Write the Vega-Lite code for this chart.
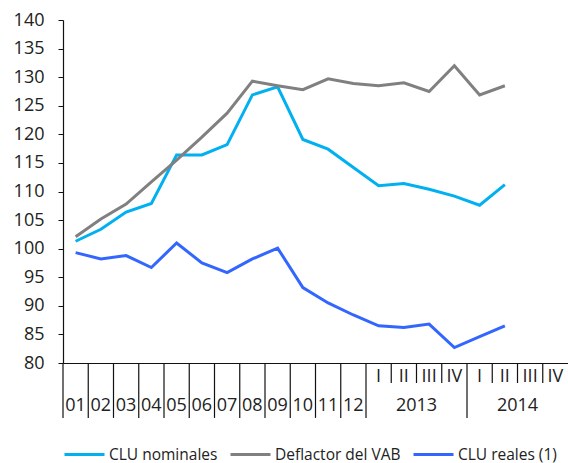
{
  "$schema": "https://vega.github.io/schema/vega-lite/v6.json",
  "autosize": "none",
  "width": 505,
  "height": 343,
  "padding": {"left": 63, "top": 20, "right": 0, "bottom": 100},
  "background": "white",
  "config": {
    "font": "Open Sans",
    "view": {"stroke": null}
  },
  "resolve": {"axis": {"x": "independent", "y": "independent"}},
  "datasets": {
    "series": [
      {"pos": 0.5, "serie": "CLU nominales", "v": 101.3},
      {"pos": 1.5, "serie": "CLU nominales", "v": 103.4},
      {"pos": 2.5, "serie": "CLU nominales", "v": 106.4},
      {"pos": 3.5, "serie": "CLU nominales", "v": 107.9},
      {"pos": 4.5, "serie": "CLU nominales", "v": 116.4},
      {"pos": 5.5, "serie": "CLU nominales", "v": 116.4},
      {"pos": 6.5, "serie": "CLU nominales", "v": 118.2},
      {"pos": 7.5, "serie": "CLU nominales", "v": 126.9},
      {"pos": 8.5, "serie": "CLU nominales", "v": 128.3},
      {"pos": 9.5, "serie": "CLU nominales", "v": 119.1},
      {"pos": 10.5, "serie": "CLU nominales", "v": 117.4},
      {"pos": 11.5, "serie": "CLU nominales", "v": 114.2},
      {"pos": 12.5, "serie": "CLU nominales", "v": 111.0},
      {"pos": 13.5, "serie": "CLU nominales", "v": 111.4},
      {"pos": 14.5, "serie": "CLU nominales", "v": 110.4},
      {"pos": 15.5, "serie": "CLU nominales", "v": 109.2},
      {"pos": 16.5, "serie": "CLU nominales", "v": 107.6},
      {"pos": 17.5, "serie": "CLU nominales", "v": 111.2},
      {"pos": 0.5, "serie": "Deflactor del VAB", "v": 102.1},
      {"pos": 1.5, "serie": "Deflactor del VAB", "v": 105.2},
      {"pos": 2.5, "serie": "Deflactor del VAB", "v": 107.8},
      {"pos": 3.5, "serie": "Deflactor del VAB", "v": 111.7},
      {"pos": 4.5, "serie": "Deflactor del VAB", "v": 115.5},
      {"pos": 5.5, "serie": "Deflactor del VAB", "v": 119.5},
      {"pos": 6.5, "serie": "Deflactor del VAB", "v": 123.7},
      {"pos": 7.5, "serie": "Deflactor del VAB", "v": 129.3},
      {"pos": 8.5, "serie": "Deflactor del VAB", "v": 128.5},
      {"pos": 9.5, "serie": "Deflactor del VAB", "v": 127.8},
      {"pos": 10.5, "serie": "Deflactor del VAB", "v": 129.7},
      {"pos": 11.5, "serie": "Deflactor del VAB", "v": 128.9},
      {"pos": 12.5, "serie": "Deflactor del VAB", "v": 128.5},
      {"pos": 13.5, "serie": "Deflactor del VAB", "v": 129.0},
      {"pos": 14.5, "serie": "Deflactor del VAB", "v": 127.5},
      {"pos": 15.5, "serie": "Deflactor del VAB", "v": 132.0},
      {"pos": 16.5, "serie": "Deflactor del VAB", "v": 126.9},
      {"pos": 17.5, "serie": "Deflactor del VAB", "v": 128.5},
      {"pos": 0.5, "serie": "CLU reales (1)", "v": 99.3},
      {"pos": 1.5, "serie": "CLU reales (1)", "v": 98.2},
      {"pos": 2.5, "serie": "CLU reales (1)", "v": 98.8},
      {"pos": 3.5, "serie": "CLU reales (1)", "v": 96.7},
      {"pos": 4.5, "serie": "CLU reales (1)", "v": 101.0},
      {"pos": 5.5, "serie": "CLU reales (1)", "v": 97.5},
      {"pos": 6.5, "serie": "CLU reales (1)", "v": 95.8},
      {"pos": 7.5, "serie": "CLU reales (1)", "v": 98.2},
      {"pos": 8.5, "serie": "CLU reales (1)", "v": 100.1},
      {"pos": 9.5, "serie": "CLU reales (1)", "v": 93.2},
      {"pos": 10.5, "serie": "CLU reales (1)", "v": 90.5},
      {"pos": 11.5, "serie": "CLU reales (1)", "v": 88.4},
      {"pos": 12.5, "serie": "CLU reales (1)", "v": 86.5},
      {"pos": 13.5, "serie": "CLU reales (1)", "v": 86.2},
      {"pos": 14.5, "serie": "CLU reales (1)", "v": 86.8},
      {"pos": 15.5, "serie": "CLU reales (1)", "v": 82.7},
      {"pos": 16.5, "serie": "CLU reales (1)", "v": 84.6},
      {"pos": 17.5, "serie": "CLU reales (1)", "v": 86.5}
    ],
    "seps": [
      {"b": 0, "top": 80, "bottom": 70.4},
      {"b": 1, "top": 80, "bottom": 70.4},
      {"b": 2, "top": 80, "bottom": 70.4},
      {"b": 3, "top": 80, "bottom": 70.4},
      {"b": 4, "top": 80, "bottom": 70.4},
      {"b": 5, "top": 80, "bottom": 70.4},
      {"b": 6, "top": 80, "bottom": 70.4},
      {"b": 7, "top": 80, "bottom": 70.4},
      {"b": 8, "top": 80, "bottom": 70.4},
      {"b": 9, "top": 80, "bottom": 70.4},
      {"b": 10, "top": 80, "bottom": 70.4},
      {"b": 11, "top": 80, "bottom": 70.4},
      {"b": 12, "top": 80, "bottom": 70.4},
      {"b": 13, "top": 80, "bottom": 76.5},
      {"b": 14, "top": 80, "bottom": 76.5},
      {"b": 15, "top": 80, "bottom": 76.5},
      {"b": 16, "top": 80, "bottom": 70.4},
      {"b": 17, "top": 80, "bottom": 76.5},
      {"b": 18, "top": 80, "bottom": 76.5},
      {"b": 19, "top": 80, "bottom": 76.5}
    ],
    "labels": [
      {"c": 0.5, "lv": 72.4, "t": "01"},
      {"c": 1.5, "lv": 72.4, "t": "02"},
      {"c": 2.5, "lv": 72.4, "t": "03"},
      {"c": 3.5, "lv": 72.4, "t": "04"},
      {"c": 4.5, "lv": 72.4, "t": "05"},
      {"c": 5.5, "lv": 72.4, "t": "06"},
      {"c": 6.5, "lv": 72.4, "t": "07"},
      {"c": 7.5, "lv": 72.4, "t": "08"},
      {"c": 8.5, "lv": 72.4, "t": "09"},
      {"c": 9.5, "lv": 72.4, "t": "10"},
      {"c": 10.5, "lv": 72.4, "t": "11"},
      {"c": 11.5, "lv": 72.4, "t": "12"},
      {"c": 12.5, "lv": 77.5, "t": "I"},
      {"c": 13.5, "lv": 77.5, "t": "II"},
      {"c": 14.5, "lv": 77.5, "t": "III"},
      {"c": 15.5, "lv": 77.5, "t": "IV"},
      {"c": 16.5, "lv": 77.5, "t": "I"},
      {"c": 17.5, "lv": 77.5, "t": "II"},
      {"c": 18.5, "lv": 77.5, "t": "III"},
      {"c": 19.5, "lv": 77.5, "t": "IV"},
      {"c": 14, "lv": 72.4, "t": "2013"},
      {"c": 18, "lv": 72.4, "t": "2014"}
    ]
  },
  "layer": [
    {
      "data": {"name": "series"},
      "mark": {"type": "line", "strokeWidth": 3, "strokeJoin": "miter"},
      "encoding": {
        "x": {"field": "pos", "type": "quantitative", "scale": {"domain": [0, 20], "nice": false, "zero": false},
              "axis": {"domain": true, "domainColor": "#111", "domainWidth": 1.2, "ticks": false, "labels": false, "grid": false, "title": null}},
        "y": {"field": "v", "type": "quantitative",
              "scale": {"domain": [80, 140], "nice": false, "zero": false},
              "axis": {"values": [80, 85, 90, 95, 100, 105, 110, 115, 120, 125, 130, 135, 140],
                       "labelOverlap": false, "labelFont": "Open Sans", "labelFontSize": 18, "labelColor": "#222",
                       "grid": false, "title": null, "domainColor": "#111", "domainWidth": 1.2,
                       "tickColor": "#111", "tickSize": 5, "labelPadding": 14}},
        "color": {"field": "serie", "type": "nominal",
                  "scale": {"domain": ["CLU nominales", "Deflactor del VAB", "CLU reales (1)"],
                            "range": ["#00B0F0", "#808080", "#3366FF"]},
                  "legend": {"orient": "none", "legendX": 0, "legendY": 413, "direction": "horizontal", "gridAlign": "none",
                             "title": null, "symbolType": "stroke", "symbolSize": 1600, "symbolStrokeWidth": 3,
                             "labelFont": "Open Sans", "labelFontSize": 15.5, "labelColor": "#222", "labelLimit": 300,
                             "labelOffset": 3, "columnPadding": 6, "symbolOffset": 0}}
      }
    },
    {
      "data": {"name": "seps"},
      "mark": {"type": "rule", "color": "#111", "strokeWidth": 1.2},
      "encoding": {
        "x": {"field": "b", "type": "quantitative", "axis": null},
        "y": {"field": "top", "type": "quantitative", "axis": null},
        "y2": {"field": "bottom"}
      }
    },
    {
      "data": {"name": "labels"},
      "mark": {"type": "text", "font": "Open Sans", "fontSize": 18, "color": "#222", "align": "center", "baseline": "middle"},
      "encoding": {
        "x": {"field": "c", "type": "quantitative", "axis": null},
        "y": {"field": "lv", "type": "quantitative", "axis": null},
        "text": {"field": "t"}
      }
    }
  ]
}
